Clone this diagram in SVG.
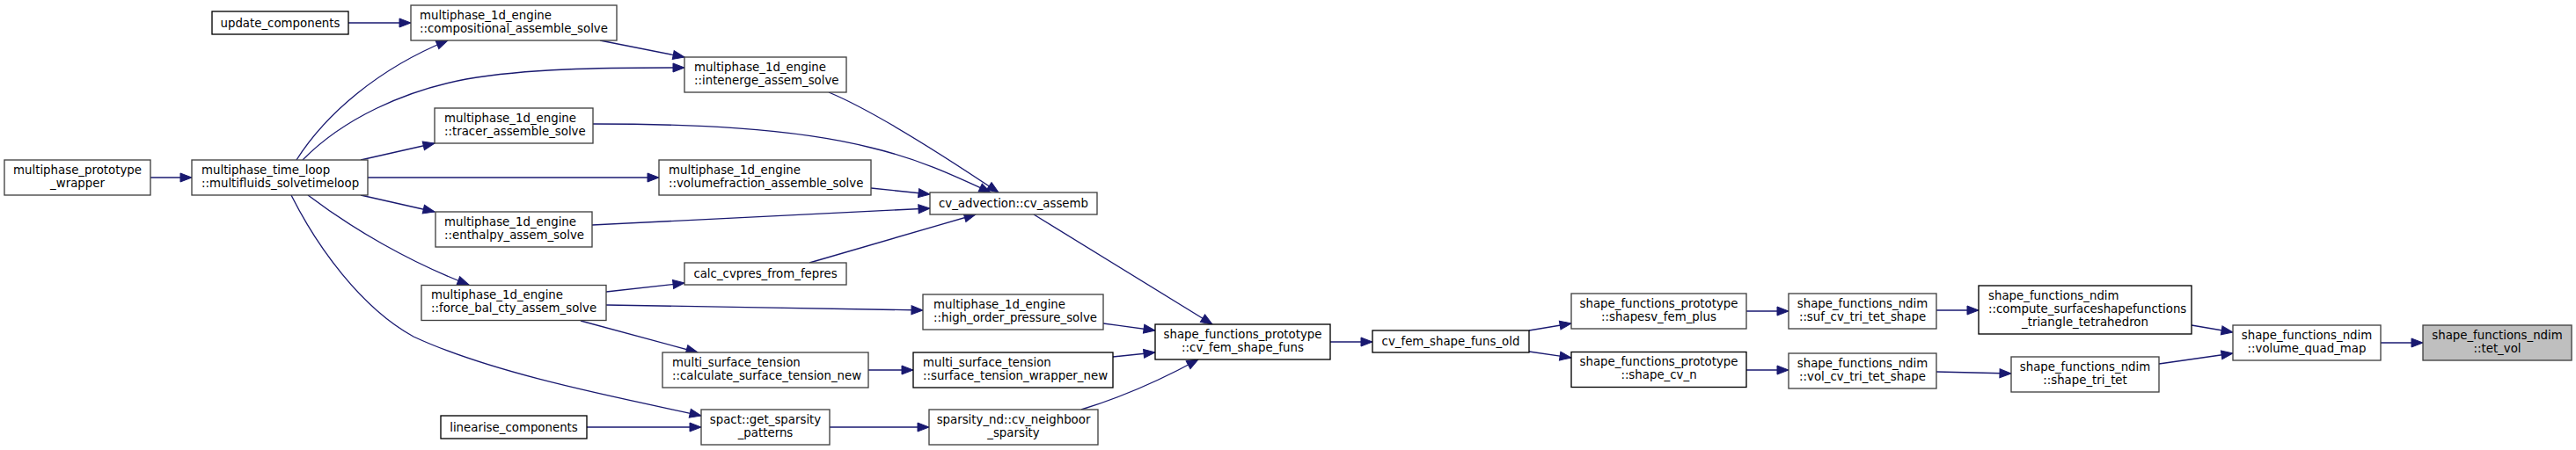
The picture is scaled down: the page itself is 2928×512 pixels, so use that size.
<svg xmlns="http://www.w3.org/2000/svg" width="2928" height="512" viewBox="0 0 2928 512">
<style>
.n rect{fill:#ffffff;stroke:#404040;stroke-width:1.33}
.n.k rect{stroke:#000000}
.n.h rect{fill:#bfbfbf}
text{font-family:"DejaVu Sans","Liberation Sans",sans-serif;font-size:13.33px;fill:#000000}
.c{text-anchor:middle}
.l{text-anchor:start}
.e path{fill:none;stroke:#191970;stroke-width:1.33;marker-end:url(#ah)}
</style>
<defs>
<marker id="ah" markerUnits="userSpaceOnUse" markerWidth="14" markerHeight="12" refX="13" refY="5" orient="auto" overflow="visible">
<path d="M0,0 L13,5 L0,10 z" fill="#191970" stroke="#191970" stroke-width="1"/>
</marker>
</defs>
<rect width="2928" height="512" fill="#ffffff"/>
<g id="edges" class="e">
<path d="M171,202 L218,202"/>
<path d="M396,26 L467,26"/>
<path d="M337,182 C370,130 430,78 509,46"/>
<path d="M344,182 C390,135 460,103 530,90 C600,78 680,77 778,77"/>
<path d="M410,182 L494,163"/>
<path d="M418,202 L749,202"/>
<path d="M410,222 L494,241"/>
<path d="M350,222 C400,260 465,298 533,324"/>
<path d="M331,222 C360,280 410,350 470,383 C560,425 700,452 797,473"/>
<path d="M682,46 L778,65"/>
<path d="M942,105 C990,125 1065,172 1135,219"/>
<path d="M674,141 C780,141 900,145 990,168 C1045,181 1085,200 1126,219"/>
<path d="M990,214 L1057,221"/>
<path d="M673,256 L1057,237"/>
<path d="M920,299 L1109,244"/>
<path d="M689,332 L778,322"/>
<path d="M689,347 C800,349 950,351 1049,353"/>
<path d="M660,365 L793,401"/>
<path d="M667,486 L797,486"/>
<path d="M987,421 L1038,421"/>
<path d="M943,486 L1056,486"/>
<path d="M1175,244 L1378,369"/>
<path d="M1254,368 L1313,376"/>
<path d="M1265,406 L1313,401"/>
<path d="M1229,466 C1275,452 1320,432 1362,409"/>
<path d="M1512,389 L1560,389"/>
<path d="M1738,376 L1786,368"/>
<path d="M1738,400 L1786,407"/>
<path d="M1985,354 L2033,354"/>
<path d="M1985,421 L2033,421"/>
<path d="M2201,353 L2249,353"/>
<path d="M2201,423 L2286,425"/>
<path d="M2491,370 L2538,378"/>
<path d="M2454,414 L2538,402"/>
<path d="M2706,390 L2754,390"/>
</g>
<g id="n_wrapper" class="n"><rect x="5" y="182" width="166" height="40"/><text class="c" x="88" y="197.5">multiphase_prototype</text><text class="c" x="88" y="212.5">_wrapper</text></g>
<g id="n_time_loop" class="n"><rect x="218" y="182" width="200" height="40"/><text class="l" x="229" y="197.5">multiphase_time_loop</text><text class="l" x="229" y="212.5">::multifluids_solvetimeloop</text></g>
<g id="n_update" class="n k"><rect x="241" y="13" width="155" height="26"/><text class="c" x="318.5" y="30.5">update_components</text></g>
<g id="n_compositional" class="n"><rect x="467" y="6" width="234" height="40"/><text class="l" x="477" y="21.5">multiphase_1d_engine</text><text class="l" x="477" y="36.5">::compositional_assemble_solve</text></g>
<g id="n_tracer" class="n"><rect x="494" y="123" width="180" height="40"/><text class="l" x="505" y="138.5">multiphase_1d_engine</text><text class="l" x="505" y="153.5">::tracer_assemble_solve</text></g>
<g id="n_enthalpy" class="n"><rect x="495" y="241" width="178" height="40"/><text class="l" x="505" y="256.5">multiphase_1d_engine</text><text class="l" x="505" y="271.5">::enthalpy_assem_solve</text></g>
<g id="n_force_bal" class="n"><rect x="479" y="324.5" width="210" height="40"/><text class="l" x="490" y="340">multiphase_1d_engine</text><text class="l" x="490" y="355">::force_bal_cty_assem_solve</text></g>
<g id="n_linearise" class="n k"><rect x="501" y="473" width="166" height="26"/><text class="c" x="584" y="490.5">linearise_components</text></g>
<g id="n_intenerge" class="n"><rect x="778" y="65" width="184" height="40"/><text class="l" x="789" y="80.5">multiphase_1d_engine</text><text class="l" x="789" y="95.5">::intenerge_assem_solve</text></g>
<g id="n_volumefraction" class="n"><rect x="749" y="182" width="241" height="40"/><text class="l" x="760" y="197.5">multiphase_1d_engine</text><text class="l" x="760" y="212.5">::volumefraction_assemble_solve</text></g>
<g id="n_calc_cvpres" class="n"><rect x="778" y="299" width="184" height="25"/><text class="c" x="870" y="315.5">calc_cvpres_from_fepres</text></g>
<g id="n_mst_calc" class="n"><rect x="753" y="401" width="234" height="40"/><text class="l" x="764" y="416.5">multi_surface_tension</text><text class="l" x="764" y="431.5">::calculate_surface_tension_new</text></g>
<g id="n_spact" class="n"><rect x="797" y="466" width="146" height="40"/><text class="c" x="870" y="481.5">spact::get_sparsity</text><text class="c" x="870" y="496.5">_patterns</text></g>
<g id="n_cv_assemb" class="n"><rect x="1057" y="219" width="190" height="25"/><text class="c" x="1152" y="235.5">cv_advection::cv_assemb</text></g>
<g id="n_high_order" class="n"><rect x="1049" y="335" width="205" height="40"/><text class="l" x="1061" y="350.5">multiphase_1d_engine</text><text class="l" x="1061" y="365.5">::high_order_pressure_solve</text></g>
<g id="n_st_wrapper" class="n k"><rect x="1038" y="401" width="227" height="40"/><text class="l" x="1049" y="416.5">multi_surface_tension</text><text class="l" x="1049" y="431.5">::surface_tension_wrapper_new</text></g>
<g id="n_sparsity_nd" class="n"><rect x="1056" y="466" width="192" height="40"/><text class="c" x="1152" y="481.5">sparsity_nd::cv_neighboor</text><text class="c" x="1152" y="496.5">_sparsity</text></g>
<g id="n_cv_fem" class="n k"><rect x="1313" y="369" width="199" height="40"/><text class="c" x="1412.5" y="384.5">shape_functions_prototype</text><text class="c" x="1412.5" y="399.5">::cv_fem_shape_funs</text></g>
<g id="n_cv_fem_old" class="n k"><rect x="1560" y="376" width="178" height="25"/><text class="c" x="1649" y="392.5">cv_fem_shape_funs_old</text></g>
<g id="n_shapesv" class="n"><rect x="1786" y="334" width="199" height="40"/><text class="c" x="1885.5" y="349.5">shape_functions_prototype</text><text class="c" x="1885.5" y="364.5">::shapesv_fem_plus</text></g>
<g id="n_shape_cv_n" class="n k"><rect x="1786" y="400.5" width="199" height="40"/><text class="c" x="1885.5" y="416">shape_functions_prototype</text><text class="c" x="1885.5" y="431">::shape_cv_n</text></g>
<g id="n_suf_cv" class="n"><rect x="2033" y="334" width="168" height="40"/><text class="c" x="2117" y="349.5">shape_functions_ndim</text><text class="c" x="2117" y="364.5">::suf_cv_tri_tet_shape</text></g>
<g id="n_vol_cv" class="n"><rect x="2033" y="402" width="168" height="40"/><text class="c" x="2117" y="417.5">shape_functions_ndim</text><text class="c" x="2117" y="432.5">::vol_cv_tri_tet_shape</text></g>
<g id="n_compute" class="n k"><rect x="2249" y="325" width="242" height="55"/><text class="l" x="2260" y="341">shape_functions_ndim</text><text class="l" x="2260" y="356">::compute_surfaceshapefunctions</text><text class="c" x="2370" y="371">_triangle_tetrahedron</text></g>
<g id="n_shape_tri_tet" class="n"><rect x="2286" y="406" width="168" height="40"/><text class="c" x="2370" y="421.5">shape_functions_ndim</text><text class="c" x="2370" y="436.5">::shape_tri_tet</text></g>
<g id="n_volume_quad_map" class="n"><rect x="2538" y="370" width="168" height="40"/><text class="c" x="2622" y="385.5">shape_functions_ndim</text><text class="c" x="2622" y="400.5">::volume_quad_map</text></g>
<g id="n_tet_vol" class="n h"><rect x="2754" y="370" width="169" height="40"/><text class="c" x="2838.5" y="385.5">shape_functions_ndim</text><text class="c" x="2838.5" y="400.5">::tet_vol</text></g>
</svg>
